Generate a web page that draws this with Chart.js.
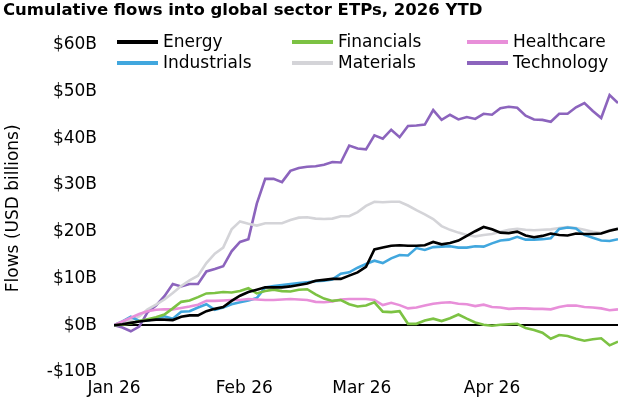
<!DOCTYPE html>
<html>
<head>
<meta charset="utf-8">
<script src="https://cdn.jsdelivr.net/npm/chart.js@4.4.1/dist/chart.umd.min.js"></script>
<style>
  html, body { margin: 0; padding: 0; background: #fff; }
  #wrap { width: 636px; height: 402px; }
</style>
</head>
<body>
<div id="wrap"><canvas id="flowChart" width="636" height="402"></canvas></div>
<script>
// days since Jan 1 2026
const days = [0, 2, 4, 6, 8, 10, 12, 14, 16, 18, 20, 22, 24, 26, 28, 30, 32, 34, 36, 38,
  40, 42, 44, 46, 48, 50, 52, 54, 56, 58, 60, 62, 64, 66, 68, 70, 72, 74, 76, 78,
  80, 82, 84, 86, 88, 90, 92, 94, 96, 98, 100, 102, 104, 106, 108, 110, 112, 114, 116, 118, 120];

// cumulative flows, USD billions
const energy = [0, 0.2, 0.5, 0.8, 1.0, 1.2, 1.2, 1.1, 1.8, 2.1, 2.1, 3.0, 3.5, 3.9, 5.2, 6.3, 7.1, 7.6, 8.1, 8.1,
  8.1, 8.3, 8.6, 8.9, 9.5, 9.7, 9.9, 9.9, 10.6, 11.3, 12.5, 16.2, 16.6, 17.0, 17.1, 17.0, 17.0, 17.1, 17.8, 17.3,
  17.6, 18.1, 19.1, 20.1, 21.0, 20.5, 19.8, 19.7, 20.0, 19.2, 18.8, 19.1, 19.6, 19.3, 19.2, 19.6, 19.5, 19.5, 19.6, 20.2, 20.6];
const financials = [0, 0.1, 0.4, 0.9, 1.3, 1.7, 2.3, 3.6, 5.0, 5.3, 6.0, 6.8, 6.9, 7.1, 7.0, 7.3, 7.9, 6.8, 7.3, 7.6,
  7.3, 7.2, 7.6, 7.7, 6.6, 5.7, 5.2, 5.4, 4.5, 4.0, 4.2, 4.9, 2.9, 2.8, 3.0, 0.3, 0.3, 1.0, 1.4, 0.9,
  1.5, 2.3, 1.4, 0.6, 0.1, -0.1, 0.1, 0.2, 0.3, -0.6, -1.0, -1.6, -2.9, -2.1, -2.3, -2.9, -3.3, -3.0, -2.8, -4.3, -3.5];
const healthcare = [0, 0.8, 1.6, 2.4, 3.0, 3.3, 3.4, 3.4, 3.7, 4.0, 4.4, 5.2, 5.2, 5.3, 5.4, 5.4, 5.6, 5.5, 5.4, 5.4,
  5.5, 5.6, 5.5, 5.4, 5.0, 4.9, 5.1, 5.5, 5.6, 5.6, 5.6, 5.4, 4.3, 4.8, 4.3, 3.6, 3.8, 4.2, 4.6, 4.8,
  4.9, 4.6, 4.5, 4.1, 4.4, 3.9, 3.8, 3.5, 3.6, 3.6, 3.5, 3.5, 3.4, 3.9, 4.2, 4.2, 3.9, 3.8, 3.6, 3.2, 3.4];
const industrials = [0, 0.8, 1.8, 0.9, 1.0, 1.4, 1.9, 1.4, 2.9, 3.0, 3.8, 4.5, 3.3, 3.8, 4.5, 4.9, 5.3, 5.8, 8.1, 8.4,
  8.6, 8.8, 9.0, 9.2, 9.4, 9.5, 9.8, 11.0, 11.3, 12.3, 13.1, 13.8, 13.3, 14.3, 15.0, 14.9, 16.5, 16.1, 16.7, 16.8,
  16.9, 16.6, 16.6, 16.9, 16.8, 17.5, 18.1, 18.3, 18.9, 18.3, 18.3, 18.4, 18.6, 20.6, 20.9, 20.7, 19.3, 18.7, 18.1, 18.0, 18.4];
const materials = [0, 0.3, 1.0, 1.9, 3.4, 4.4, 5.5, 6.9, 8.4, 9.6, 10.6, 13.3, 15.3, 16.6, 20.5, 22.2, 21.7, 21.3, 21.8, 21.8,
  21.8, 22.5, 23.0, 23.1, 22.8, 22.7, 22.8, 23.3, 23.3, 24.2, 25.5, 26.4, 26.3, 26.4, 26.4, 25.6, 24.6, 23.7, 22.7, 21.2,
  20.4, 19.8, 19.3, 19.0, 19.3, 19.5, 20.0, 20.4, 20.6, 20.4, 20.3, 20.4, 20.5, 20.8, 21.0, 20.8, 20.4, 20.0, 19.7, 20.3, 20.7];
const technology = [0, -0.5, -1.3, -0.3, 2.8, 4.2, 6.2, 8.8, 8.3, 8.8, 8.8, 11.5, 12.0, 12.6, 15.8, 17.8, 18.4, 26.0, 31.3, 31.3,
  30.6, 33.0, 33.6, 33.9, 34.0, 34.3, 34.9, 34.8, 38.4, 37.8, 37.6, 40.6, 39.9, 41.8, 40.2, 42.6, 42.7, 42.9, 46.0, 43.9,
  45.0, 44.0, 44.5, 44.1, 45.2, 45.0, 46.4, 46.7, 46.5, 44.8, 44.0, 43.9, 43.5, 45.2, 45.2, 46.6, 47.5, 45.8, 44.3, 49.2, 47.5];

const seriesNames = ['Energy', 'Financials', 'Healthcare', 'Industrials', 'Materials', 'Technology'];
const seriesColors = ['#000000', '#7cc243', '#e88fd9', '#41a7de', '#d4d4d8', '#8c64bd'];
const seriesValues = [energy, financials, healthcare, industrials, materials, technology];

const monthTicks = [0, 31, 59, 90];
const monthLabels = ['Jan 26', 'Feb 26', 'Mar 26', 'Apr 26'];

const FONT = "'DejaVu Sans', sans-serif";

// legend drawn in three fixed columns over the top of the plot
const gridLegend = {
    id: 'gridLegend',
    afterDraw(chart) {
        const ctx = chart.ctx;
        const cols = [117, 292, 467];
        const rows = [42, 63];
        ctx.save();
        ctx.font = '17px ' + FONT;
        ctx.textBaseline = 'middle';
        ctx.fillStyle = '#000';
        chart.data.datasets.forEach((ds, i) => {
            const x = cols[i % 3];
            const y = rows[Math.floor(i / 3)];
            ctx.strokeStyle = ds.borderColor;
            ctx.lineWidth = 4;
            ctx.beginPath();
            ctx.moveTo(x, y);
            ctx.lineTo(x + 41, y);
            ctx.stroke();
            ctx.fillText(ds.label, x + 46, y + 1);
        });
        ctx.restore();
    }
};

new Chart(document.getElementById('flowChart'), {
    type: 'line',
    data: {
        labels: days,
        datasets: seriesNames.map((name, i) => ({
            label: name,
            data: days.map((d, j) => ({ x: d, y: seriesValues[i][j] })),
            borderColor: seriesColors[i],
            backgroundColor: seriesColors[i],
            borderWidth: 2.6,
            pointRadius: 0,
            tension: 0
        }))
    },
    options: {
        responsive: false,
        animation: false,
        layout: { padding: { left: 3, right: 18, top: 0, bottom: 0 } },
        plugins: {
            legend: { display: false },
            tooltip: { enabled: false },
            title: {
                display: true,
                text: 'Cumulative flows into global sector ETPs, 2026 YTD',
                align: 'start',
                color: '#000',
                font: { family: FONT, size: 16.5, weight: 'bold' },
                padding: { top: 1, bottom: 23.8 }
            }
        },
        scales: {
            x: {
                type: 'linear',
                min: 0,
                max: 120,
                afterBuildTicks: (scale) => { scale.ticks = monthTicks.map(v => ({ value: v })); },
                afterFit: (scale) => { scale.height = 30; },
                ticks: {
                    color: '#000',
                    font: { family: FONT, size: 17 },
                    padding: 6,
                    maxRotation: 0,
                    callback: (v) => monthLabels[monthTicks.indexOf(v)]
                },
                grid: { display: false, drawTicks: false },
                border: { display: false }
            },
            y: {
                min: -10,
                max: 60,
                afterFit: (scale) => { scale.width = 111; },
                ticks: {
                    stepSize: 10,
                    color: '#000',
                    font: { family: FONT, size: 17 },
                    padding: 17,
                    callback: (v) => (v < 0 ? '-' : '') + '$' + Math.abs(v) + 'B'
                },
                title: {
                    display: true,
                    text: 'Flows (USD billions)',
                    color: '#000',
                    font: { family: FONT, size: 17 },
                    padding: 0
                },
                grid: {
                    drawTicks: false,
                    color: (c) => c.tick && c.tick.value === 0 ? '#000' : 'rgba(0,0,0,0)',
                    lineWidth: 2
                },
                border: { display: false }
            }
        }
    },
    plugins: [gridLegend]
});
</script>
</body>
</html>
